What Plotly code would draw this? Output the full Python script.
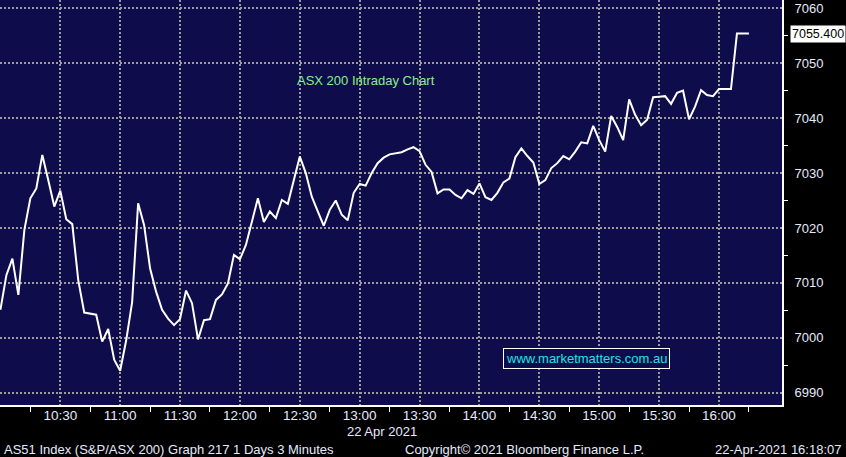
import pandas as pd
import plotly.graph_objects as go

# ASX 200 intraday, 3-minute bars from 10:00
values = [
    7005.1, 7011.4, 7014.4, 7007.8, 7019.6, 7025.4, 7027.2, 7033.3, 7028.7, 7023.9,
    7026.8, 7021.6, 7020.7, 7010.5, 7004.6, 7004.4, 7004.2, 6999.3, 7001.6, 6996.0,
    6994.0, 6999.5, 7006.5, 7024.5, 7020.5, 7012.6, 7008.4, 7005.1, 7003.5, 7002.3,
    7003.4, 7008.6, 7006.3, 6999.7, 7003.2, 7003.4, 7006.9, 7007.9, 7009.9, 7015.1,
    7014.3, 7016.9, 7021.4, 7025.4, 7021.1, 7023.0, 7021.8, 7025.1, 7024.4, 7028.7,
    7033.0, 7030.0, 7025.7, 7023.0, 7020.4, 7023.3, 7025.0, 7022.4, 7021.4, 7026.4,
    7028.0, 7027.7, 7030.0, 7031.8, 7032.8, 7033.4, 7033.6, 7033.8, 7034.3, 7034.7,
    7034.0, 7031.5, 7030.2, 7026.3, 7027.0, 7027.0, 7026.0, 7025.4, 7026.9, 7026.2,
    7028.1, 7025.6, 7025.1, 7026.4, 7028.3, 7029.0, 7032.9, 7034.5, 7033.1, 7031.9,
    7028.0, 7028.7, 7030.9, 7031.8, 7033.1, 7032.5, 7033.9, 7035.6, 7035.4, 7038.6,
    7036.0, 7033.9, 7040.4, 7038.4, 7036.0, 7043.4, 7040.6, 7038.7, 7039.7, 7043.8,
    7043.9, 7044.0, 7042.6, 7044.6, 7045.0, 7039.8, 7042.1, 7045.1, 7044.2, 7044.0,
    7045.3, 7045.3, 7045.3, 7055.4, 7055.4, 7055.4,
]
times = pd.date_range("2021-04-22 10:00", periods=len(values), freq="3min")

x_tickvals = ["2021-04-22 10:00", "2021-04-22 10:30", "2021-04-22 11:00", "2021-04-22 11:30",
              "2021-04-22 12:00", "2021-04-22 12:30", "2021-04-22 13:00", "2021-04-22 13:30",
              "2021-04-22 14:00", "2021-04-22 14:30", "2021-04-22 15:00", "2021-04-22 15:30",
              "2021-04-22 16:00"]
x_ticktext = ["", "10:30", "11:00", "11:30", "12:00", "12:30", "13:00", "13:30",
              "14:00", "14:30", "15:00", "15:30", "16:00"]
y_tickvals = [6990, 7000, 7010, 7020, 7030, 7040, 7050, 7060]
last_price = 7055.4

navy = "#0f0c4b"
grid = "#9c9c9c"
label_col = "#e4ebff"
font = "Liberation Sans, Arial, sans-serif"

fig = go.Figure()

fig.add_trace(go.Scatter(
    x=times, y=values, mode="lines",
    line=dict(color="white", width=2),
    hoverinfo="skip",
))

# little arrow heads on the price axis
fig.add_trace(go.Scatter(
    x=[1.006] * len(y_tickvals), y=y_tickvals, xaxis="x2",
    mode="markers", marker=dict(symbol="triangle-right", size=8, color="white"),
    cliponaxis=False, hoverinfo="skip",
))
# last price tag pointer
fig.add_trace(go.Scatter(
    x=[1.0085], y=[last_price], xaxis="x2",
    mode="markers", marker=dict(symbol="triangle-left", size=9, color="white"),
    cliponaxis=False, hoverinfo="skip",
))

fig.update_layout(
    width=846, height=457,
    margin=dict(l=0, r=64, t=0, b=52),
    paper_bgcolor="black",
    plot_bgcolor=navy,
    showlegend=False,
    font=dict(family=font, color=label_col, size=14),
    xaxis=dict(
        type="date",
        range=["2021-04-22 09:59:48", "2021-04-22 16:31:34"],
        tickvals=x_tickvals, ticktext=x_ticktext,
        showgrid=True, gridcolor=grid, gridwidth=2, griddash="2px,2px",
        showline=True, linecolor="white", linewidth=2,
        ticks="", zeroline=False, ticklabelstandoff=-3,
        minor=dict(ticks="outside", ticklen=5, tickwidth=1, tickcolor="white",
                   tick0="2021-04-22 10:15", dtick=30 * 60 * 1000, showgrid=False),
        tickfont=dict(size=13.5, color=label_col),
    ),
    xaxis2=dict(overlaying="x", range=[0, 1], visible=False),
    yaxis=dict(
        side="right",
        range=[6987.76, 7061.51],
        tickvals=y_tickvals,
        showgrid=True, gridcolor=grid, gridwidth=2, griddash="2px,2px",
        showline=True, linecolor="white", linewidth=2,
        ticks="outside", ticklen=8, tickcolor="rgba(0,0,0,0)",
        zeroline=False,
        minor=dict(ticks="outside", ticklen=4, tickwidth=1, tickcolor="white",
                   tick0=6995, dtick=10, showgrid=False),
        tickfont=dict(size=13, color=label_col),
    ),
)

fig.add_annotation(
    text="ASX 200 Intraday Chart", xref="paper", yref="paper",
    x=295 / 782, y=1 - 81 / 405, xanchor="left", yanchor="middle",
    showarrow=False, font=dict(size=13, color="#86f08c", family=font),
)
fig.add_annotation(
    text="www.marketmatters.com.au", xref="paper", yref="paper",
    x=503 / 782, y=1 - 358.5 / 405, xanchor="left", yanchor="middle",
    showarrow=False, font=dict(size=13, color="#1fe3e6", family=font),
    bordercolor="white", borderwidth=1, borderpad=2, bgcolor=navy,
)
fig.add_annotation(
    text="7055.400", xref="paper", yref="y",
    x=790 / 782, y=last_price, xanchor="left", yanchor="middle",
    showarrow=False, font=dict(size=12.5, color="black", family=font),
    bgcolor="white", borderpad=1,
)
fig.add_annotation(
    text="22 Apr 2021", xref="paper", yref="paper",
    x=345 / 782, y=-(431 - 405) / 405, xanchor="left", yanchor="middle",
    showarrow=False, font=dict(size=13, color=label_col, family=font),
)
fig.add_annotation(
    text="AS51 Index (S&P/ASX 200) Graph 217 1 Days 3 Minutes", xref="paper", yref="paper",
    x=2 / 782, y=-(449 - 405) / 405, xanchor="left", yanchor="middle",
    showarrow=False, font=dict(size=13, color=label_col, family=font),
)
fig.add_annotation(
    text="Copyright© 2021 Bloomberg Finance L.P.", xref="paper", yref="paper",
    x=403 / 782, y=-(449 - 405) / 405, xanchor="left", yanchor="middle",
    showarrow=False, font=dict(size=13, color=label_col, family=font),
)
fig.add_annotation(
    text="22-Apr-2021 16:18:07", xref="paper", yref="paper",
    x=843 / 782, y=-(449 - 405) / 405, xanchor="right", yanchor="middle",
    showarrow=False, font=dict(size=13, color=label_col, family=font),
)

fig.write_html("out.html", config={"displayModeBar": False},
               post_script="document.body.style.margin='0px';")
